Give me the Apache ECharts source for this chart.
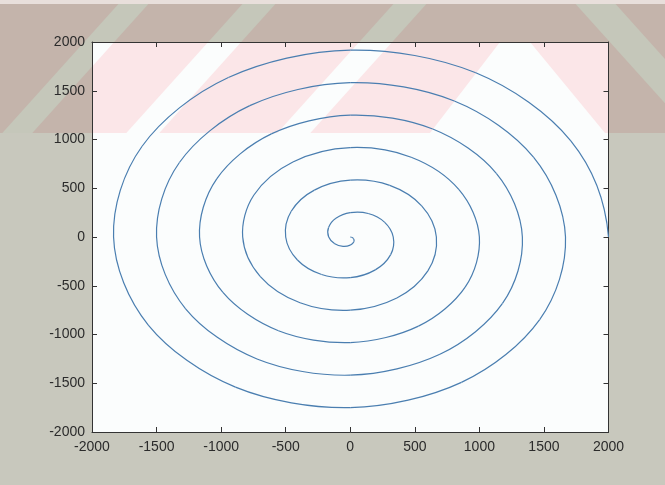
<!DOCTYPE html>
<html>
<head>
<meta charset="utf-8">
<script src="https://cdn.jsdelivr.net/npm/echarts@6/dist/echarts.min.js"></script>
<style>
  html, body { margin: 0; padding: 0; background: #c8c8bd; }
  #chart { width: 665px; height: 485px; }
</style>
</head>
<body>
<div id="chart"></div>
<script>
// 螺旋线 —— 每 30° 读一个点，每行一圈
const spiralX = [
  0, 24, 28, 0, -56, -120, -167, -168, -111, 0, 139, 265,
  333, 313, 194, 0, -222, -409, -500, -457, -278, 0, 306, 553,
  667, 601, 361, 0, -389, -698, -833, -746, -444, 0, 472, 842,
  1000, 890, 528, 0, -556, -986, -1167, -1034, -611, 0, 639, 1131,
  1333, 1179, 694, 0, -722, -1275, -1500, -1323, -778, 0, 806, 1419,
  1667, 1467, 861, 0, -889, -1564, -1833, -1612, -944, 0, 972, 1708,
  2000
];
const spiralY = [
  0, -14, -48, -83, -96, -69, 0, 97, 192, 250, 241, 153,
  0, -181, -337, -417, -385, -236, 0, 264, 481, 583, 529, 319,
  0, -347, -625, -750, -674, -403, 0, 431, 770, 917, 818, 486,
  0, -514, -914, -1083, -962, -569, 0, 597, 1058, 1250, 1107, 653,
  0, -681, -1203, -1417, -1251, -736, 0, 764, 1347, 1583, 1395, 819,
  0, -847, -1491, -1750, -1540, -903, 0, 931, 1636, 1917, 1684, 986,
  0
];

// 坐标轴范围
const axisMin = -2000;
const axisMax = 2000;
const axisStep = 500;

// ---- 绘图区位置（像素）----
const G = { left: 92, top: 42, right: 608.5, bottom: 432 };

// ---- 背景水印（斜纹）----
function poly(points, fill, z2) {
  return { type: 'polygon', z: -1, z2, silent: true, shape: { points }, style: { fill } };
}
function rect(x, y, w, h, fill, z2) {
  return { type: 'rect', z: -1, z2, silent: true, shape: { x, y, width: w, height: h }, style: { fill } };
}

const bandTop = 4, bandBottom = 133;
const grayStripe = '#c5c7ba';
const whiteBg = '#fbfdfd';

const graphics = [
  rect(0, 0, 665, bandTop, '#e8dfdb', 1),
  rect(0, bandTop, 665, bandBottom - bandTop, '#c4b4ab', 2),
  poly([[118.4, 4], [148.4, 4], [32.3, 133], [2.3, 133]], grayStripe, 3),
  poly([[242.4, 4], [275.4, 4], [159.3, 133], [126.3, 133]], grayStripe, 3),
  poly([[393.4, 4], [426.4, 4], [310.3, 133], [277.3, 133]], grayStripe, 3),
  poly([[575.6, 4], [615.6, 4], [665, 58.9], [665, 103.3]], grayStripe, 3),
  rect(G.left, G.top, G.right - G.left, G.bottom - G.top, whiteBg, 4),
  rect(G.left, G.top, G.right - G.left, bandBottom - G.top, '#fbe6e8', 5),
  poly([[92, 42], [114.2, 42], [92, 66.7]], whiteBg, 6),
  poly([[208.2, 42], [241.2, 42], [159.3, 133], [126.3, 133]], whiteBg, 6),
  poly([[359.2, 42], [392.2, 42], [310.3, 133], [277.3, 133]], whiteBg, 6),
  poly([[500, 42], [530, 42], [605, 133], [430, 133]], whiteBg, 6),
];

const labelFont = { fontFamily: 'Liberation Sans, Arial, sans-serif', fontSize: 14, color: '#2b2b2b' };
const lineStyle = { color: '#333', width: 1 };

function valueAxis(extra) {
  return Object.assign({
    type: 'value', min: axisMin, max: axisMax, interval: axisStep,
    axisLine: { show: true, onZero: false, lineStyle },
    axisTick: { show: true, inside: true, length: 5, lineStyle },
    splitLine: { show: false },
  }, extra);
}

const plainNum = (v) => String(v);

// ---- 曲线：相邻读点之间用 Catmull-Rom 三次贝塞尔连接（坐标经由 api.coord 换算）----
const last = spiralX.length - 1;
function renderSpiral(params, api) {
  const i = params.dataIndex;
  if (i >= last) return null;
  const P = (k) => api.coord([spiralX[k], spiralY[k]]);
  const tangent = (k) => {
    let a, b, c;
    if (k === 0) {
      a = P(0); b = P(1); c = P(2);
      return [(-3 * a[0] + 4 * b[0] - c[0]) / 2, (-3 * a[1] + 4 * b[1] - c[1]) / 2];
    }
    if (k === last) {
      a = P(last); b = P(last - 1); c = P(last - 2);
      return [(3 * a[0] - 4 * b[0] + c[0]) / 2, (3 * a[1] - 4 * b[1] + c[1]) / 2];
    }
    a = P(k + 1); b = P(k - 1);
    return [(a[0] - b[0]) / 2, (a[1] - b[1]) / 2];
  };
  const p0 = P(i), p1 = P(i + 1);
  const t0 = tangent(i), t1 = tangent(i + 1);
  return {
    type: 'bezierCurve',
    shape: {
      x1: p0[0], y1: p0[1], x2: p1[0], y2: p1[1],
      cpx1: p0[0] + t0[0] / 3, cpy1: p0[1] + t0[1] / 3,
      cpx2: p1[0] - t1[0] / 3, cpy2: p1[1] - t1[1] / 3,
    },
    style: { stroke: '#4a7eb0', lineWidth: 1.2, fill: 'none' },
  };
}

const chart = echarts.init(document.getElementById('chart'), null, { renderer: 'canvas' });
chart.setOption({
  backgroundColor: '#c8c8bd',
  animation: false,
  graphic: { elements: graphics },
  grid: { left: G.left, top: G.top, width: G.right - G.left, height: G.bottom - G.top, containLabel: false },
  xAxis: [
    valueAxis({ position: 'bottom', axisLabel: Object.assign({ margin: 8, formatter: plainNum, showMinLabel: true, showMaxLabel: true }, labelFont) }),
    valueAxis({ position: 'top', axisLabel: { show: false } }),
  ],
  yAxis: [
    valueAxis({ position: 'left', axisLabel: Object.assign({ margin: 7, formatter: plainNum, showMinLabel: true, showMaxLabel: true }, labelFont) }),
    valueAxis({ position: 'right', axisLabel: { show: false } }),
  ],
  series: [{
    type: 'custom',
    coordinateSystem: 'cartesian2d',
    renderItem: renderSpiral,
    data: spiralX.map((x, i) => [x, spiralY[i]]),
    encode: { x: 0, y: 1 },
    clip: true,
    silent: true,
  }],
});
</script>
</body>
</html>
